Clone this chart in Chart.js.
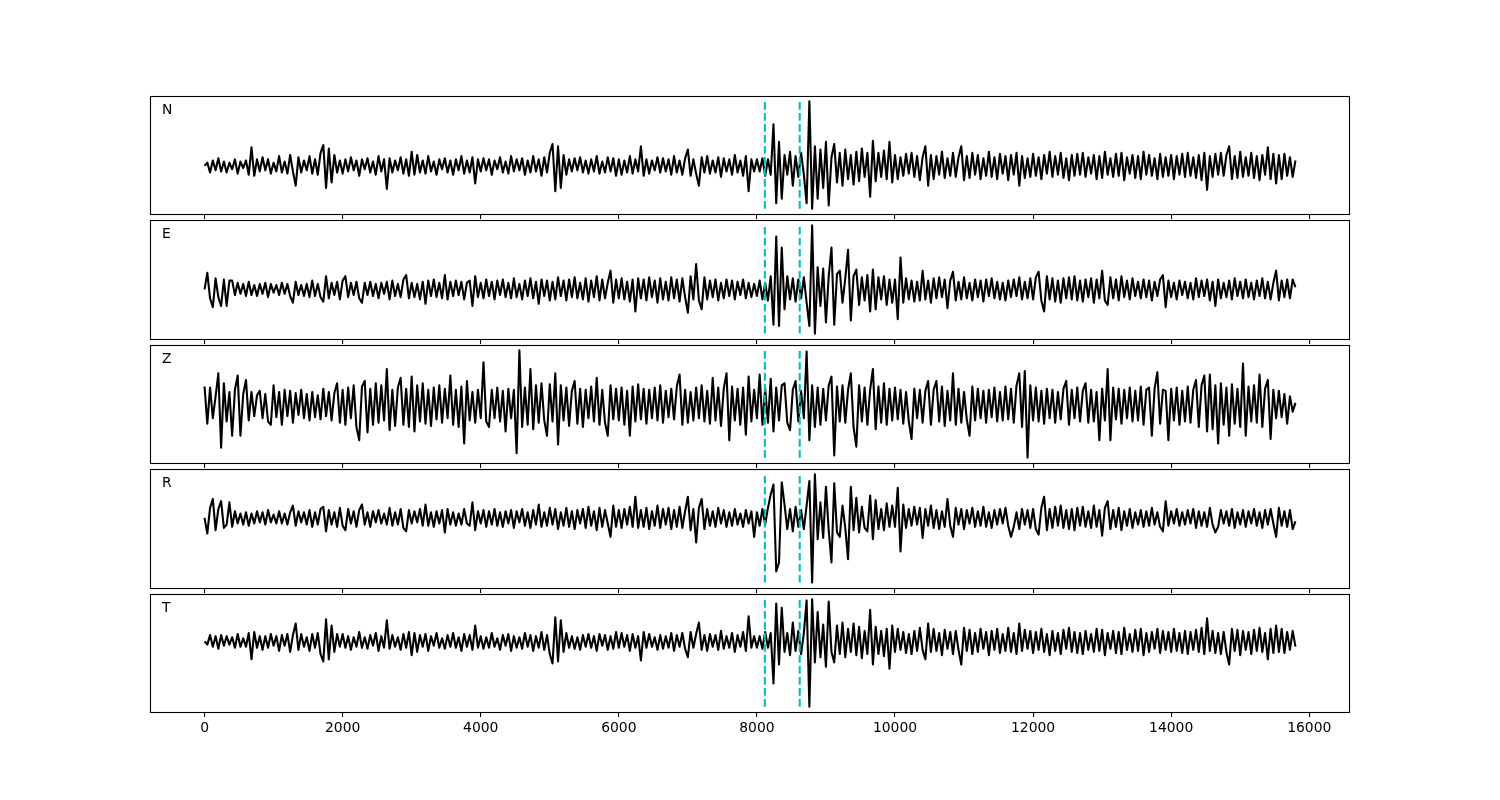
<!DOCTYPE html>
<html>
<head>
<meta charset="utf-8">
<script src="https://cdn.jsdelivr.net/npm/chart.js@4.4.1/dist/chart.umd.min.js"></script>
<style>
html,body{margin:0;padding:0;background:#fff;}
#wrap{position:relative;width:1500px;height:800px;background:#fff;overflow:hidden;}
#wrap canvas{position:absolute;left:0;}
</style>
</head>
<body>
<div id="wrap"></div>
<script>
// ---- data ----
const sampleStep = 40;              // time units between samples (samples start at 0)
const tickValues = [0, 2000, 4000, 6000, 8000, 10000, 12000, 14000, 16000];
const pickTimes = [8115, 8620];
const channelNames = ['N', 'E', 'Z', 'R', 'T'];

const traceN = [
0, 3, -6, 5, -4, 7, -5, 4, -6, 3, -3, 6, -7, 4, -2, 5, -8, 17, -9, 6, -5, 8, -4, 6, -7, 3, -5, 9, -6, 4, -7, 10, -5, -18, 8, -6, 5, -4, 9, -7, 6, -8, 12, 19, -20, 16, -15, 10, -6, 5,
-7, 6, -5, 8, -4, 5, -9, 6, -3, 7, -6, 4, -8, 9, -5, 6, -21, 7, -6, 5, -4, 8, -7, 6, -9, 13, -8, 10, -6, 5, -7, 9, -5, 4, -8, 6, -3, 7, -6, 5, -8, 6, -4, 9, -7, 5, -6, 8, -16, 6,
-5, 7, -4, 6, -8, 5, -3, 8, -6, 4, -7, 9, -5, 6, -4, 7, -8, 5, -6, 9, -5, 6, -9, 8, -6, 12, 20, -23, 18, -20, 10, -8, 6, -5, 7, -4, 8, -6, 5, -7, 6, -5, 9, -7, 4, -6, 8, -5, 7, -9,
6, -8, 5, -6, 9, -7, 6, -5, 18, -9, 6, -7, 5, -4, 8, -6, 7, -5, 6, -8, 9, -6, 5, -8, 7, 15, -9, 6, -7, -18, 8, -6, 9, -7, 5, -6, 8, -10, 7, -5, 6, -8, 10, -6, 5, -9, 9, -23, 6, -5,
6, -5, 7, -9, 6, -8, 38, -34, 22, -30, 10, -8, 13, -18, 9, -10, 12, -8, -34, 59, -39, 18, -30, 15, -20, 22, -36, 8, 20, -15, 12, -18, 15, -12, 10, -17, 13, -14, 16, -10, 12, -28, 23, -14, 12, -10, 14, -12, 22, -15,
10, -12, 8, -9, 11, -7, 12, -10, 9, -13, 8, 18, -18, 10, -12, 9, -8, 13, -11, 7, -9, 12, -10, 8, 18, -13, 9, -11, 12, -8, 10, -12, 7, -9, 13, -10, 8, -12, 11, -7, 9, -13, 10, -8, 12, -18, 9, -11, 7, -10,
11, -9, 8, -12, 10, -7, 13, -10, 9, -8, 12, -11, 7, -13, 10, -9, 11, -8, 12, -10, 8, -7, 10, -12, 9, -11, 13, -8, 7, -10, 11, -9, 12, -13, 8, -7, 10, -11, 9, -12, 13, -8, 10, -9, 7, -12, 11, -10, 8, -9,
10, -12, 9, -8, 11, -10, 12, -9, 8, -11, 10, -13, 12, -22, 9, -10, 11, -8, 12, -9, 10, 18, -12, 9, -11, 13, -10, 8, -9, 12, -11, 9, -13, 10, -8, 17, -12, 11, -16, 10, -12, 11, -9, 8, -10, 5
];

const traceE = [
0, 15, -8, -16, 10, -7, -15, 9, -15, 8, 8, -5, 6, -4, 5, -6, 7, -5, 4, -6, 5, -4, 6, -7, 5, -3, 4, -5, 6, -4, 5, -6, -12, 7, -5, 4, -6, 5, -7, 8, -6, 5, -7, -11, 12, -8, 6, -5, 7, -9,
8, 12, -7, 6, -5, 7, -8, -12, 6, -5, 7, -6, 5, -8, 6, -4, 7, -9, 8, -6, 5, -7, 9, 13, -8, 6, -7, 5, -9, 7, -13, 8, -6, 9, -7, 6, -8, 13, -9, 7, -6, 8, -5, 7, -9, 6, 8, -15, 12, -7,
6, -8, 9, -6, 7, -9, 8, -5, 9, -7, 6, -8, 10, -7, 5, -9, 8, -6, 10, -8, 7, -13, 9, -6, 8, -10, 7, -9, 11, -6, 8, -10, 9, -7, 11, -8, 6, -9, 10, -11, 8, -7, 12, -10, 9, -8, 6, 17, -12, 9,
-8, 10, -9, 7, -11, 9, -20, 10, -8, 9, -10, 11, -7, 8, -12, 10, -9, 7, -10, 11, -8, 9, -11, 10, -7, -21, 12, -9, 23, -10, -18, 11, -9, 8, -7, 9, -10, 6, -8, 9, -6, 8, -9, 7, -5, 9, -8, 6, -7, 5,
-6, 8, -9, 6, -10, 12, -32, 48, -33, 38, -18, 12, -9, 10, -11, 9, -8, 11, -12, -33, 58, -40, 20, -15, 19, -30, 12, 38, -32, 14, 17, -12, 10, 36, -28, 12, 18, -14, 11, -10, 13, -20, 18, -18, 11, -9, 12, -14, 9, -12,
9, -27, 29, -12, 10, -9, 8, -11, 7, -10, 17, -9, 8, -12, 10, -8, 11, -7, 9, -17, 8, 16, -10, 7, -9, 11, -8, 6, -10, 9, -7, 8, -11, 9, -6, 10, -8, 7, -9, 6, -10, 8, -7, 9, -6, 11, -9, 7, -8, 10,
-9, 11, 16, -10, -20, 12, -9, 10, -11, 8, -12, 10, -8, 11, -9, 12, -10, 8, -11, 9, -7, 10, -12, 9, -8, 17, -10, -14, 11, -8, 9, -10, 12, -7, 8, -9, 10, -6, 7, -8, 9, -7, 8, -10, 7, -6, 9, 13, -16, 8,
-7, 6, -9, 8, -5, 7, -8, 6, -9, 10, -7, 8, -6, 9, -10, 7, -15, 9, -8, 6, -7, 8, -9, 10, -6, 7, -8, 9, -7, 6, -9, 8, -6, 10, -8, 7, -9, 6, 17, -10, 8, -7, 9, -8, 9, 2
];

const traceZ = [
17, -17, 16, -12, 8, 29, -39, 20, -15, 12, -28, 14, 27, -28, 10, 23, -14, 12, -10, 9, 13, -12, 10, -15, -18, 18, -11, 12, -18, 14, -10, 13, -16, 11, -9, 14, -12, 10, -14, 12, -11, 9, -13, 15, -10, 12, -14, 11, 20, -16,
14, -18, 16, -12, 18, -20, -32, 17, 22, -25, 15, -18, 20, -16, 18, -14, 33, -23, 14, -19, 16, 25, -18, 15, -20, 26, -24, 18, -15, 20, -17, 14, -19, 16, -13, 18, -16, 15, -12, 27, -18, 14, -20, 17, -35, 22, -14, 12, -16, 14,
-12, 39, -15, -20, 14, -12, 16, -15, 13, -24, 15, -12, 14, -44, 50, -20, 16, -18, 33, -22, 18, -16, 20, -14, -28, 19, -15, 29, -36, 18, -14, 16, -19, 13, 22, -17, 15, -20, 14, -12, 17, -15, 25, -18, 14, -16, -28, 18, -13, 15,
-14, 16, -18, 13, -28, 17, -15, 19, -13, 15, -17, 14, -12, 16, -14, 18, -16, 13, -11, 15, -13, 17, 28, -18, 14, -16, 12, -14, 16, -12, 18, -15, 13, -17, 25, -14, 16, -19, 15, 29, -32, 17, -14, 15, -18, 16, -27, 26, -15, 14,
-12, 28, -18, 15, -16, 24, -24, 16, -14, 18, 20, -16, -23, 14, 22, -15, 13, -12, 49, -32, 18, -20, 16, -18, 15, -14, 18, 26, -46, 17, -15, 18, -16, 14, 29, -20, -38, 18, -15, 16, -18, 14, 33, -22, 17, -16, 20, -18, 15, -14,
16, -13, 14, -17, 12, -15, -31, 15, -12, 14, -16, 13, 22, -18, 14, 22, -15, 17, -19, 13, -14, 29, -18, 15, -16, 12, -13, -28, 17, -14, 15, -12, 13, -16, 14, -11, 16, -15, 12, -14, 17, -13, 15, -16, 18, 29, -20, 31, -48, 18,
-14, 16, -15, 13, -17, 15, -12, 14, -16, 12, -13, 15, 22, -18, 14, -12, 16, -15, 13, 20, -16, 14, -15, 12, -32, 15, -14, 33, -32, 16, -13, 15, -17, 14, -12, 16, -15, 13, -14, 17, -18, 14, 16, -28, 15, 30, -17, 14, 13, -32,
15, -14, 16, -18, 13, -15, 17, -16, 14, 23, -20, 18, 27, -24, 28, -22, 18, -35, 20, -18, 16, -28, 19, -17, 15, -20, 38, -28, 17, -15, 18, -16, 28, -20, 15, 23, -31, 14, -12, 13, -11, 10, -17, 8, -6, 2
];

const traceR = [
0, -14, 9, 17, -11, 8, 15, -9, -6, 14, -8, 6, -5, 4, -6, 5, -7, 4, -5, 6, -4, 5, -6, 7, -4, 3, -5, 6, -5, 4, -6, 5, 11, -7, 6, -4, 5, -6, 7, -8, 5, -6, 8, 10, -12, 7, -6, 5, -8, 9,
-7, -11, 8, -5, 6, -8, 7, 12, -6, 5, -8, 6, -4, 7, -5, 4, -6, 9, -7, 5, -6, 8, -9, -12, 7, -5, 6, -4, 8, -7, 12, -7, 5, -8, 6, -5, 7, -13, 8, -6, 5, -7, 4, -6, 8, -5, -7, 14, -11, 6,
-5, 7, -8, 6, -6, 8, -7, 5, -8, 6, -5, 7, -9, 6, -4, 8, -7, 5, -9, 7, -6, 12, -8, 5, -7, 9, -6, 8, -10, 5, -7, 9, -8, 6, -10, 7, -5, 8, -9, 10, -7, 6, -11, 9, -8, 7, -5, -17, 11, -8,
7, -9, 8, -6, 10, -8, 19, -9, 7, -8, 9, -10, 6, -7, 11, -9, 8, -6, 9, -10, 7, -8, 10, -9, 6, 19, -11, 8, -22, 9, 17, -10, 8, -7, 6, -8, 9, -5, 7, -8, 5, -7, 8, -6, 4, -8, 7, -5, 6, -17,
5, -7, 8, -6, 9, 21, 30, -48, -40, 32, 12, -10, 8, -12, 10, -8, 7, -10, 11, 33, -58, 39, -19, 14, -18, 28, -11, -40, 31, -13, -17, 11, -9, -37, 28, -11, 18, -13, 10, -9, -12, 20, -19, 16, -10, 8, -11, 13, -8, 11,
-8, 27, -30, 12, -9, 8, -7, 10, -6, 9, -18, 8, -7, 11, -9, 7, -10, 6, -8, 17, -7, -17, 9, -6, 8, -10, 7, -5, 9, -8, 6, -7, 10, -8, 5, -9, 7, -6, 8, -5, 9, -7, -17, -8, 5, -10, 8, -6, 7, -9,
8, -10, -15, 9, 19, -11, 8, -9, 10, -7, 11, -9, 7, -10, 8, -11, 9, -7, 10, -8, 6, -9, 11, -8, 7, -16, 9, 15, -10, 7, -8, 9, -11, 6, -7, 8, -9, 5, -6, 7, -8, 6, -7, 9, -6, 5, -8, -12, 15, -7,
6, -5, 8, -7, 5, -6, 7, -5, 8, -9, 6, -7, 5, -8, 9, -6, -13, -8, 7, -5, 6, -7, 8, -9, 5, -6, 7, -8, 6, -5, 8, -7, 5, -9, 7, -6, 8, -5, -17, 9, -7, 6, -8, 7, -10, -3
];

const traceT = [
0, -3, 6, -5, 5, -7, 6, -4, 5, -3, 4, -6, 7, -5, 3, -5, 8, -17, 9, -6, 5, -8, 5, -6, 7, -4, 5, -9, 6, -4, 7, -10, 6, 17, -8, 7, -5, 4, -9, 7, -6, 8, -12, -19, 21, -17, 15, -10, 7, -5,
7, -6, 5, -8, 4, -5, 9, -6, 4, -7, 6, -4, 8, -9, 5, -6, 20, -7, 6, -5, 4, -8, 7, -6, 9, -13, 8, -10, 6, -5, 7, -9, 5, -4, 8, -6, 3, -7, 6, -5, 8, -6, 4, -9, 7, -5, 6, -8, 15, -6,
5, -7, 4, -6, 8, -5, 3, -8, 6, -4, 7, -9, 5, -6, 4, -7, 8, -5, 6, -9, 5, -6, 9, -8, 6, -12, -21, 23, -19, 20, -10, 8, -6, 5, -7, 4, -8, 6, -5, 7, -6, 5, -9, 7, -4, 6, -8, 5, -7, 9,
-6, 8, -5, 6, -9, 7, -6, 5, -18, 9, -6, 7, -5, 4, -8, 6, -7, 5, -6, 8, -9, 6, -5, 8, -7, -15, 9, -6, 7, 18, -8, 6, -9, 7, -5, 6, -8, 10, -7, 5, -6, 8, -10, 6, -5, 9, -9, 24, -6, 5,
-6, 5, -7, 9, -6, 8, -40, 36, -22, 32, -10, 8, -13, 18, -9, 10, -12, 8, 39, -62, 40, -20, 28, -15, 16, -24, 38, -10, -20, 15, -12, 18, -15, 12, -10, 17, -13, 14, -16, 10, -12, 30, -22, 14, -12, 10, -14, 12, -26, 15,
-10, 12, -8, 9, -11, 7, -12, 10, -9, 13, -8, -17, 17, -10, 12, -9, 8, -13, 11, -7, 9, -12, 10, -8, -22, 13, -9, 11, -12, 8, -10, 12, -7, 9, -13, 10, -8, 12, -11, 7, -9, 13, -10, 8, -12, 17, -9, 11, -7, 10,
-11, 9, -8, 12, -10, 7, -13, 10, -9, 8, -12, 11, -7, 13, -10, 9, -11, 8, -12, 10, -8, 7, -10, 12, -9, 11, -13, 8, -7, 10, -11, 9, -12, 13, -8, 7, -10, 11, -9, 12, -13, 8, -10, 9, -7, 12, -11, 10, -8, 9,
-10, 12, -9, 8, -11, 10, -12, 9, -8, 11, -10, 13, -12, 22, -9, 10, -11, 8, -12, 9, -10, -22, 12, -9, 11, -13, 10, -8, 9, -12, 11, -9, 13, -10, 8, -17, 12, -11, 15, -10, 12, -11, 9, -8, 10, -5
];

const traces = [traceN, traceE, traceZ, traceR, traceT];

// ---- layout (figure fractions like the original figure, measured from the bottom) ----
const FIG_W = 1500, FIG_H = 800;
const FRAC_LEFT = 0.1, FRAC_RIGHT = 0.9, FRAC_TOP = 0.88, FRAC_BOTTOM = 0.11;
const PANEL_GAP = 6;
const AXIS_H = 34;
const PAD_TOP = 4;

const wrap = document.getElementById('wrap');
const figTop = (1 - FRAC_TOP) * FIG_H, figBottom = (1 - FRAC_BOTTOM) * FIG_H;
const panelH = (figBottom - figTop - PANEL_GAP * (traces.length - 1)) / traces.length;

function framePlugin(name) {
  return {
    id: 'panelFrame',
    afterDraw(chart) {
      const { ctx, chartArea: a } = chart;
      ctx.save();
      ctx.strokeStyle = '#000';
      ctx.lineWidth = 1.1;
      const l = Math.round(a.left), t = Math.round(a.top), r = Math.round(a.right), b = Math.round(a.bottom);
      ctx.strokeRect(l + 0.5, t + 0.5, r - l - 1, b - t);
      ctx.fillStyle = '#000';
      ctx.font = '13.9px "DejaVu Sans"';
      ctx.textBaseline = 'alphabetic';
      ctx.textAlign = 'left';
      ctx.fillText(name, a.left + 0.01 * (a.right - a.left), a.bottom - 0.85 * (a.bottom - a.top));
      ctx.restore();
    }
  };
}

traces.forEach((ys, i) => {
  const top = Math.round(figTop + i * (panelH + PANEL_GAP));
  const bottom = Math.round(figTop + i * (panelH + PANEL_GAP) + panelH);
  const canvasH = (bottom - top) + PAD_TOP + AXIS_H;

  const canvas = document.createElement('canvas');
  canvas.width = FIG_W; canvas.height = canvasH;
  canvas.style.width = FIG_W + 'px'; canvas.style.height = canvasH + 'px';
  canvas.style.top = (top - PAD_TOP) + 'px';
  wrap.appendChild(canvas);

  const isLast = i === traces.length - 1;
  const lo = Math.min(...ys), hi = Math.max(...ys);
  const yPad = 0.05 * (hi - lo);
  const xLast = (ys.length - 1) * sampleStep;
  const xPad = 0.05 * xLast;
  const pts = ys.map((v, k) => ({ x: k * sampleStep, y: v }));

  const pickSets = pickTimes.map(t => ({
    data: [{ x: t, y: lo }, { x: t, y: hi }],
    borderColor: '#00bfbf',
    borderWidth: 2.08,
    borderDash: [7.7, 3.3],
    pointRadius: 0,
    tension: 0,
    fill: false
  }));

  new Chart(canvas, {
    type: 'line',
    data: {
      datasets: [
        ...pickSets,
        {
          data: pts,
          borderColor: '#000',
          borderWidth: 2.08,
          borderJoinStyle: 'round',
          pointRadius: 0,
          tension: 0,
          fill: false
        }
      ]
    },
    options: {
      responsive: false,
      maintainAspectRatio: false,
      animation: false,
      devicePixelRatio: 1,
      events: [],
      layout: {
        padding: {
          left: Math.round(FRAC_LEFT * FIG_W),
          right: Math.round((1 - FRAC_RIGHT) * FIG_W),
          top: PAD_TOP,
          bottom: 0
        }
      },
      plugins: { legend: { display: false }, tooltip: { enabled: false } },
      scales: {
        x: {
          type: 'linear',
          min: -xPad,
          max: xLast + xPad,
          afterBuildTicks: s => { s.ticks = tickValues.map(v => ({ value: v })); },
          afterFit: s => { s.height = AXIS_H; },
          border: { display: false },
          grid: { display: true, drawOnChartArea: false, drawTicks: true, tickLength: 5, color: '#000', lineWidth: 1.1 },
          ticks: {
            display: isLast,
            color: '#000',
            padding: 3,
            autoSkip: false,
            maxRotation: 0,
            font: { family: 'DejaVu Sans', size: 13.9 },
            callback: v => String(v)
          }
        },
        y: { display: false, min: lo - yPad, max: hi + yPad }
      }
    },
    plugins: [framePlugin(channelNames[i])]
  });
});
</script>
</body>
</html>
